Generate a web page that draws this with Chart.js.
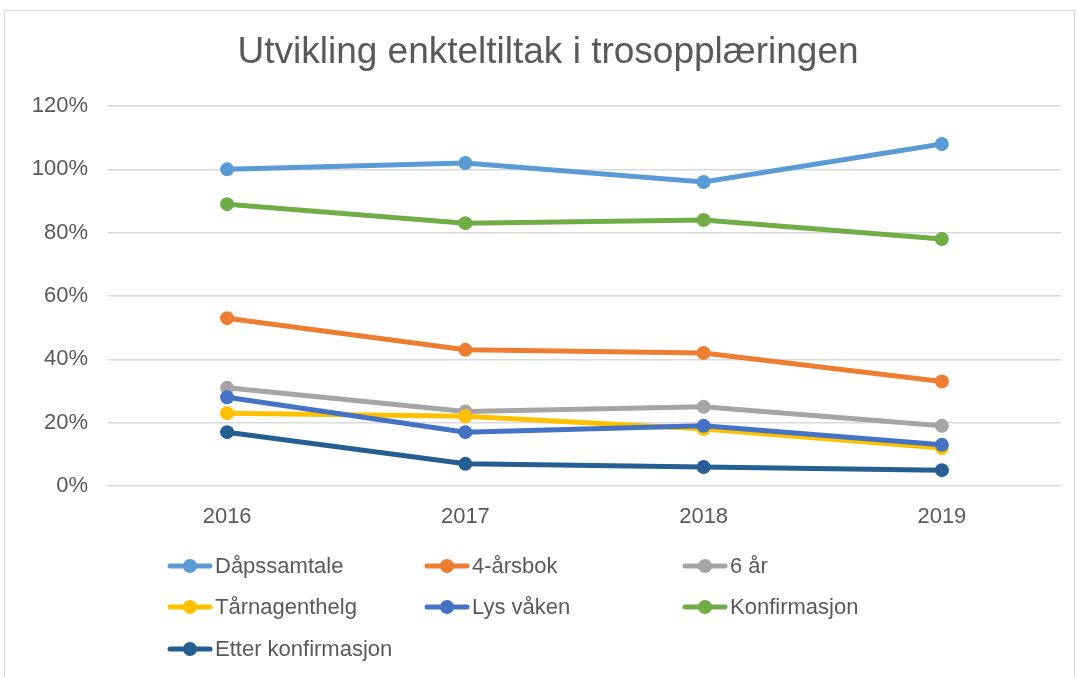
<!DOCTYPE html>
<html>
<head>
<meta charset="utf-8">
<script src="https://cdn.jsdelivr.net/npm/chart.js@4/dist/chart.umd.min.js"></script>
<style>
  body { margin: 0; background: #fff; }
  #wrap { position: absolute; left: 0; top: 0; width: 1078px; height: 677px; }
  #frame { position: absolute; left: 4px; top: 10px; width: 1071px; height: 670px; border: 1px solid #d9d9d9; box-sizing: border-box; }
</style>
</head>
<body>
<div id="wrap">
  <div id="frame"></div>
  <canvas id="myChart" width="1078" height="677"></canvas>
</div>
<script>
let years = ['2016', '2017', '2018', '2019'];
let seriesNames = ['Dåpssamtale', '4-årsbok', '6 år', 'Tårnagenthelg', 'Lys våken', 'Konfirmasjon', 'Etter konfirmasjon'];
let seriesColors = ['#5B9BD5', '#ED7D31', '#A5A5A5', '#FFC000', '#4472C4', '#70AD47', '#255E91'];
// verdier i prosent
let dapssamtale = [100, 102, 96, 108];
let arsbok = [53, 43, 42, 33];
let seksAr = [31, 23.5, 25, 19];
let tarnagent = [23, 22, 18, 12];
let lysVaken = [28, 17, 19, 13];
let konfirmasjon = [89, 83, 84, 78];
let etterKonf = [17, 7, 6, 5];
let yTicks = [0, 20, 40, 60, 80, 100, 120];

let allValues = [dapssamtale, arsbok, seksAr, tarnagent, lysVaken, konfirmasjon, etterKonf];
let textColor = '#595959';
let fontName = '"Liberation Sans", Arial, sans-serif';

let datasets = [];
for (let i = 0; i < seriesNames.length; i++) {
    datasets.push({
        label: seriesNames[i],
        data: allValues[i],
        borderColor: seriesColors[i],
        backgroundColor: seriesColors[i],
        borderWidth: 5,
        pointRadius: 7,
        pointHoverRadius: 7,
        pointBorderWidth: 0,
        tension: 0,
        order: seriesNames.length - i
    });
}

// tittel og forklaring tegnes selv
const extras = {
    id: 'extras',
    afterDraw(chart) {
        let ctx = chart.ctx;
        ctx.save();
        ctx.fillStyle = textColor;
        ctx.font = '37px ' + fontName;
        ctx.textAlign = 'center';
        ctx.textBaseline = 'middle';
        ctx.fillText('Utvikling enkteltiltak i trosopplæringen', 548, 53);

        let cols = [170, 427, 685];
        let rows = [566, 607, 649];
        ctx.font = '22px ' + fontName;
        ctx.textAlign = 'left';
        chart.data.datasets.forEach((ds, i) => {
            let x = cols[i % 3];
            let y = rows[Math.floor(i / 3)];
            ctx.strokeStyle = ds.borderColor;
            ctx.lineWidth = 5;
            ctx.lineCap = 'round';
            ctx.beginPath();
            ctx.moveTo(x, y);
            ctx.lineTo(x + 40, y);
            ctx.stroke();
            ctx.fillStyle = ds.borderColor;
            ctx.beginPath();
            ctx.arc(x + 20, y, 7, 0, Math.PI * 2);
            ctx.fill();
            ctx.fillStyle = textColor;
            ctx.fillText(ds.label, x + 45, y + 1);
        });
        ctx.restore();
    }
};

let ctx = document.getElementById('myChart');
new Chart(ctx, {
    type: 'line',
    data: {
        labels: years,
        datasets: datasets
    },
    options: {
        responsive: false,
        animation: false,
        layout: {
            padding: { top: 106, right: 17, left: 0, bottom: 0 }
        },
        plugins: {
            legend: { display: false },
            title: { display: false },
            tooltip: { enabled: false }
        },
        scales: {
            x: {
                offset: true,
                grid: { display: false, drawTicks: false },
                border: { display: false },
                ticks: {
                    color: textColor,
                    font: { family: fontName, size: 22 },
                    padding: 18
                },
                afterFit: function (scale) { scale.height = 191; }
            },
            y: {
                min: 0,
                max: 120,
                afterBuildTicks: function (scale) {
                    scale.ticks = yTicks.map(v => ({ value: v }));
                },
                grid: { color: '#d9d9d9', lineWidth: 1.5, drawTicks: false },
                border: { display: false },
                ticks: {
                    color: textColor,
                    font: { family: fontName, size: 22, lineHeight: 1.0 },
                    padding: 20,
                    callback: function (v) { return v + '%'; }
                },
                afterFit: function (scale) { scale.width = 108; }
            }
        }
    },
    plugins: [extras]
});
</script>
</body>
</html>
